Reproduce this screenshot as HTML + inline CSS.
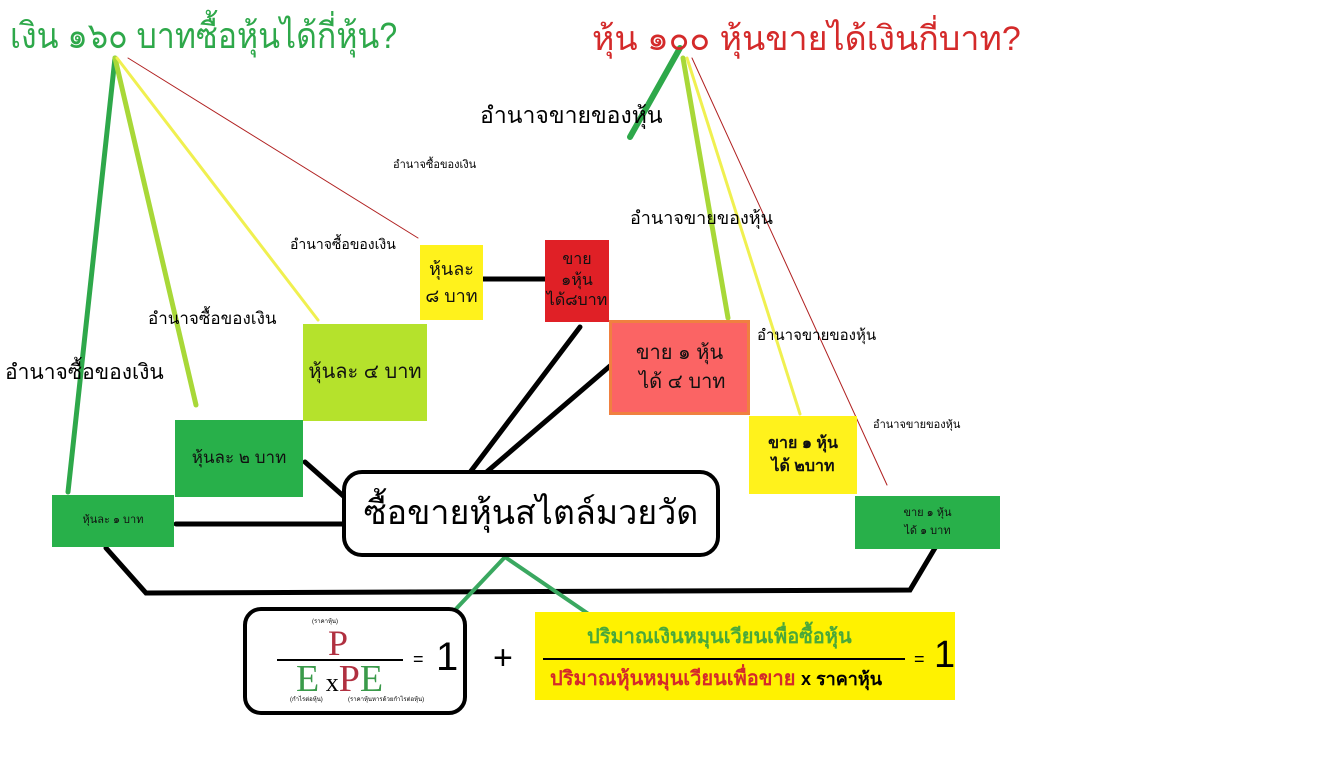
<!DOCTYPE html>
<html><head><meta charset="utf-8">
<style>
body{margin:0;width:1318px;height:766px;background:#fff;position:relative;overflow:hidden;font-family:"Liberation Sans","Noto Sans CJK SC",sans-serif;}
.t{position:absolute;white-space:nowrap;color:#000;line-height:1;}
.b{position:absolute;display:flex;flex-direction:column;align-items:center;justify-content:center;text-align:center;line-height:1.45;color:#111;box-sizing:border-box;}
svg{position:absolute;left:0;top:0;}
</style></head><body>
<svg width="1318" height="766">
<g fill="none" stroke-linecap="round">
<line x1="115" y1="58" x2="68" y2="492" stroke="#2ea84a" stroke-width="5"/>
<line x1="115" y1="58" x2="196" y2="405" stroke="#a8d838" stroke-width="5"/>
<line x1="117" y1="58" x2="318" y2="320" stroke="#f0f050" stroke-width="3"/>
<line x1="128" y1="58" x2="418" y2="238" stroke="#b02020" stroke-width="1"/>
<line x1="680" y1="48" x2="630" y2="137" stroke="#2ea84a" stroke-width="6"/>
<line x1="683" y1="58" x2="728" y2="318" stroke="#a8d838" stroke-width="5"/>
<line x1="687" y1="58" x2="800" y2="414" stroke="#f0f050" stroke-width="3"/>
<line x1="692" y1="58" x2="887" y2="485" stroke="#b02020" stroke-width="1"/>
<g stroke="#000" stroke-width="5">
<line x1="483" y1="279" x2="545" y2="279"/>
<line x1="580" y1="327" x2="440" y2="512"/>
<line x1="610" y1="366" x2="440" y2="512"/>
<line x1="305" y1="462" x2="367" y2="517"/>
<line x1="176" y1="524" x2="367" y2="524"/>
<polyline points="106,548 146,593 910,590 935,548"/>
</g>
<line x1="505" y1="557" x2="455" y2="610" stroke="#3aa860" stroke-width="4"/>
<line x1="505" y1="557" x2="590" y2="615" stroke="#3aa860" stroke-width="4"/>
</g>
</svg>
<div class="t" style="left:10px;top:18px;font-size:36px;color:#2ea84a;transform:scaleX(0.89);transform-origin:0 0">เงิน ๑๖๐ บาทซื้อหุ้นได้กี่หุ้น?</div>
<div class="t" style="left:592px;top:22px;font-size:34px;color:#d42a2a">หุ้น ๑๐๐ หุ้นขายได้เงินกี่บาท?</div>
<div class="t" style="left:480px;top:104px;font-size:23px">อำนาจขายของหุ้น</div>
<div class="t" style="left:393px;top:160px;font-size:11px">อำนาจซื้อของเงิน</div>
<div class="t" style="left:630px;top:209px;font-size:18px">อำนาจขายของหุ้น</div>
<div class="t" style="left:290px;top:237px;font-size:14px">อำนาจซื้อของเงิน</div>
<div class="t" style="left:148px;top:310px;font-size:17px">อำนาจซื้อของเงิน</div>
<div class="t" style="left:5px;top:362px;font-size:21px">อำนาจซื้อของเงิน</div>
<div class="t" style="left:757px;top:328px;font-size:15px">อำนาจขายของหุ้น</div>
<div class="t" style="left:873px;top:420px;font-size:11px">อำนาจขายของหุ้น</div>

<div class="b" style="left:420px;top:245px;width:63px;height:75px;background:#fff21c;font-size:18px">หุ้นละ<br>๘ บาท</div>
<div class="b" style="left:545px;top:240px;width:64px;height:82px;background:#e02026;font-size:16px;line-height:1.3">ขาย<br>๑หุ้น<br>ได้๘บาท</div>
<div class="b" style="left:303px;top:324px;width:124px;height:97px;background:#b5e22c;font-size:20px">หุ้นละ ๔ บาท</div>
<div class="b" style="left:609px;top:320px;width:141px;height:95px;background:#fb6464;border:3px solid #f08040;font-size:20px">ขาย ๑ หุ้น<br>&nbsp;ได้ ๔ บาท</div>
<div class="b" style="left:175px;top:420px;width:128px;height:77px;background:#28b04a;font-size:17px">หุ้นละ ๒ บาท</div>
<div class="b" style="left:749px;top:416px;width:108px;height:78px;background:#fff21c;font-size:16px;font-weight:bold">ขาย ๑ หุ้น<br>ได้ ๒บาท</div>
<div class="b" style="left:52px;top:495px;width:122px;height:52px;background:#28b04a;font-size:11px">หุ้นละ ๑ บาท</div>
<div class="b" style="left:855px;top:496px;width:145px;height:53px;background:#28b04a;font-size:11px;line-height:1.6">ขาย ๑ หุ้น<br>ได้ ๑ บาท</div>

<div class="b" style="left:342px;top:470px;width:378px;height:87px;border:4px solid #000;border-radius:20px;background:#fff;font-size:34px;color:#000">ซื้อขายหุ้นสไตล์มวยวัด</div>

<div style="position:absolute;left:243px;top:607px;width:224px;height:108px;border:4px solid #000;border-radius:18px;box-sizing:border-box;background:#fff"></div>
<div class="t" style="left:312px;top:619px;font-size:6px">(ราคาหุ้น)</div>
<div class="t" style="left:328px;top:625px;font-size:36px;font-family:'Liberation Serif',serif;color:#b03040">P</div>
<div style="position:absolute;left:277px;top:659px;width:126px;height:2px;background:#000"></div>
<div class="t" style="left:296px;top:660px;font-size:38px;font-family:'Liberation Serif',serif"><span style="color:#3a9a4a">E</span><span style="font-size:26px"> x</span><span style="color:#b03040">P</span><span style="color:#3a9a4a">E</span></div>
<div class="t" style="left:290px;top:697px;font-size:6px">(กำไรต่อหุ้น)</div>
<div class="t" style="left:348px;top:697px;font-size:6px">(ราคาหุ้นหารด้วยกำไรต่อหุ้น)</div>
<div class="t" style="left:413px;top:650px;font-size:18px">=</div>
<div class="t" style="left:436px;top:637px;font-size:40px">1</div>
<div class="t" style="left:493px;top:641px;font-size:34px">+</div>

<div style="position:absolute;left:535px;top:612px;width:420px;height:88px;background:#fff200"></div>
<div class="t" style="left:587px;top:627px;font-size:20px;font-weight:bold;color:#4aa83a">ปริมาณเงินหมุนเวียนเพื่อซื้อหุ้น</div>
<div style="position:absolute;left:543px;top:658px;width:362px;height:2px;background:#000"></div>
<div class="t" style="left:550px;top:669px;font-size:20px;font-weight:bold;color:#d42a2a">ปริมาณหุ้นหมุนเวียนเพื่อขาย <span style="color:#000;font-size:18px">x ราคาหุ้น</span></div>
<div class="t" style="left:914px;top:650px;font-size:18px">=</div>
<div class="t" style="left:934px;top:636px;font-size:38px">1</div>
</body></html>
